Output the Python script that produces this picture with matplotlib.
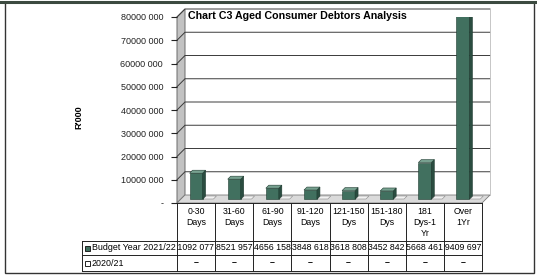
import matplotlib
matplotlib.use("Agg")
import matplotlib.pyplot as plt
from matplotlib.patches import Polygon, Rectangle
from matplotlib.lines import Line2D
from matplotlib.transforms import blended_transform_factory, Bbox, TransformedBbox

plt.rcParams['font.family'] = ['Liberation Sans', 'DejaVu Sans']

# data
categories = ["0-30\nDays", "31-60\nDays", "61-90\nDays", "91-120\nDays",
              "121-150\nDys", "151-180\nDys", "181\nDys-1\nYr", "Over\n1Yr"]
budget_2122 = [11092077, 8521957, 4656158, 3848618, 3618808, 3452842, 15668461, 79409697]
prior_2021 = [0, 0, 0, 0, 0, 0, 0, 0]
series_names = ["Budget Year 2021/22", "2020/21"]
yticks = [0, 10000000, 20000000, 30000000, 40000000, 50000000, 60000000, 70000000, 80000000]
title = "Chart C3 Aged Consumer Debtors Analysis"

W, H = 537, 277
fx = lambda px: px / W
fy = lambda py: 1 - py / H

fig = plt.figure(figsize=(W / 100, H / 100), dpi=100)
ax = fig.add_axes([fx(177), fy(203), fx(482) - fx(177), fy(17) - fy(203)])
n = len(categories)
ax.set_xlim(-0.5, n - 0.5)
ax.set_ylim(0, yticks[-1])
ux = n / 305.0            # data units per pixel (x)
uy = yticks[-1] / 186.0   # data units per pixel (y)
DX, DY = 8 * ux, 8 * uy   # 3d depth of the wall / floor
L, R, TOP = -0.5, n - 0.5, yticks[-1]

# left wall, floor, back grid
ax.add_patch(Polygon([(L, 0), (L + DX, DY), (L + DX, TOP + DY), (L, TOP)], closed=True,
                     fc='#c2c2c2', ec='#6a6a6a', lw=0.7, clip_on=False, zorder=1))
ax.add_patch(Polygon([(L, 0), (R, 0), (R + DX, DY), (L + DX, DY)], closed=True,
                     fc='#dadada', ec='#7a7a7a', lw=0.6, clip_on=False, zorder=1))
for v in yticks[1:]:
    ax.plot([L, L + DX, R + DX], [v, v + DY, v + DY], color='#3a3a3a', lw=0.7,
            clip_on=False, zorder=1.5)
ax.plot([R + DX, R + DX], [DY, TOP + DY], color='#bdbdbd', lw=0.6, clip_on=False, zorder=1.5)

# bars
x = list(range(n))
bw, base = 13 * ux, 4 * uy
d, dd = 3 * ux, 3 * uy
front, topc, side = '#41705f', '#77a190', '#2a4c40'
ax.bar(x, budget_2122, width=bw, bottom=base, color=front, edgecolor='#1d3a2f', lw=0.4, zorder=3)
for i, v in zip(x, budget_2122):
    t = base + v
    ax.add_patch(Polygon([(i - bw / 2, t), (i + bw / 2, t), (i + bw / 2 + d, t + dd), (i - bw / 2 + d, t + dd)],
                         closed=True, fc=topc, ec='#1d3a2f', lw=0.4, zorder=3.2))
    ax.add_patch(Polygon([(i + bw / 2, base), (i + bw / 2 + d, base + dd), (i + bw / 2 + d, t + dd), (i + bw / 2, t)],
                         closed=True, fc=side, ec='#1d3a2f', lw=0.4, zorder=3.1))
# zero-height 2020/21 plates
for i, v in zip(x, prior_2021):
    x0, t = i + 7 * ux, base + v
    ax.add_patch(Polygon([(x0, t), (x0 + bw * 0.8, t), (x0 + bw * 0.8 + d, t + dd), (x0 + d, t + dd)],
                         closed=True, fc='#f2f2f2', ec='#8a8a8a', lw=0.4, zorder=2.5, clip_on=False))

ax.set_xticks([])
ax.set_yticks(yticks)
ax.set_yticklabels(["-" if v == 0 else f"{v // 1000} {v % 1000:03d}" for v in yticks])
ax.tick_params(axis='y', length=4, width=0.8, pad=6, labelsize=6.5, colors='#222')
for s in ax.spines.values():
    s.set_visible(False)
ax.patch.set_alpha(0)

fig.text(fx(188), fy(16), title, ha='left', va='center', fontsize=7.7, fontweight='bold')
fig.text(fx(79), fy(117), "R'000", rotation=90, ha='center', va='center', fontsize=6.5, fontweight='bold')

# data table below the chart
bl = blended_transform_factory(ax.transData, fig.transFigure)
lc, lw = '#222222', 0.7
y_hdr, y_r1, y_r2, y_bot = 203, 241, 255, 271
fig.add_artist(Line2D([L, R], [fy(y_hdr)] * 2, transform=bl, color=lc, lw=lw))
fig.add_artist(Line2D([L, R], [fy(y_r1)] * 2, transform=bl, color=lc, lw=lw))
for yy in (y_r1, y_r2, y_bot):
    fig.add_artist(Line2D([fx(82), fx(177)], [fy(yy)] * 2, transform=fig.transFigure, color=lc, lw=lw))
for yy in (y_r2, y_bot):
    fig.add_artist(Line2D([L, R], [fy(yy)] * 2, transform=bl, color=lc, lw=lw))
fig.add_artist(Line2D([fx(82)] * 2, [fy(y_r1), fy(y_bot)], transform=fig.transFigure, color=lc, lw=lw))
for k in range(n + 1):
    fig.add_artist(Line2D([k - 0.5] * 2, [fy(y_hdr), fy(y_bot)], transform=bl, color=lc, lw=lw))

for i, lab in enumerate(categories):
    fig.text(i, fy(207), lab, transform=bl, ha='center', va='top', fontsize=6.3, linespacing=1.3)


def fmt(v):
    return "\u2013" if v == 0 else f"{v // 1000} {v % 1000:03d}"


for row, (vals, yc, ya, yb) in enumerate([(budget_2122, 248, y_r1, y_r2), (prior_2021, 263, y_r2, y_bot)]):
    for i, v in enumerate(vals):
        s = fmt(v)
        t = fig.text(i + 0.48 if v else i, fy(yc), s, transform=bl, ha='right' if v else 'center',
                     va='center', fontsize=6.3, fontweight='bold' if not v else 'normal')
        t.set_clip_box(TransformedBbox(Bbox([[i - 0.5, fy(yb)], [i + 0.5, fy(ya)]]), bl))
        t.set_clip_on(True)

keys = [dict(fc=front, ec='#222'), dict(fc='white', ec='#222')]
for name, yc, kw in zip(series_names, (248, 263), keys):
    fig.add_artist(Rectangle((fx(85), fy(yc + 2.5)), 5 / W, 5 / H, transform=fig.transFigure, lw=0.7, **kw))
    fig.text(fx(92), fy(yc), name, ha='left', va='center', fontsize=6.4)

# outer frame
fig.add_artist(Rectangle((fx(5), fy(273)), 529 / W, 271 / H, transform=fig.transFigure,
                         fill=False, ec='#333', lw=1.0))
fig.add_artist(Line2D([0, 1], [fy(1.5)] * 2, transform=fig.transFigure, color='#3c4a40', lw=2.2))

fig.savefig("out.png", dpi=100)
